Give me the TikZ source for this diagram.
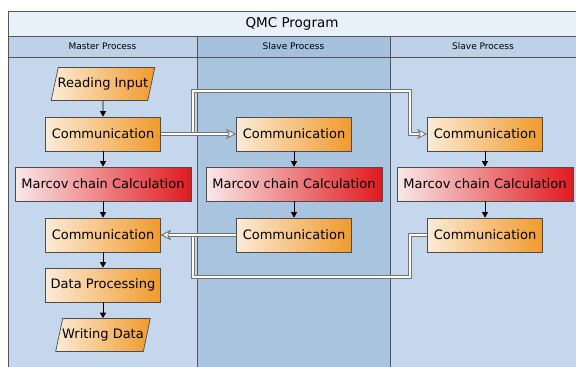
\documentclass[tikz,border=0pt]{standalone}
\usepackage{fontspec}
\setmainfont{DejaVu Sans}
\usepackage{tikz}
\usetikzlibrary{shapes.geometric,arrows.meta,positioning}

\definecolor{titlebg}{HTML}{E8F0F9}
\definecolor{lanelight}{HTML}{C4D7EC}
\definecolor{lanedark}{HTML}{A9C4DF}
\definecolor{headlight}{HTML}{BDD2E9}
\definecolor{headdark}{HTML}{A4C0DC}
\definecolor{framegray}{HTML}{555555}
\definecolor{orangelo}{HTML}{FCEBD6}
\definecolor{orangehi}{HTML}{F09A2C}
\definecolor{redlo}{HTML}{FAE8E8}
\definecolor{redhi}{HTML}{E01A1E}

\begin{document}
\begin{tikzpicture}[x=1pt, y=-1pt, font=\fontsize{13}{15}\selectfont,
  lane/.style={draw=framegray, line width=0.9pt},
  commbox/.style={draw=black!70, line width=0.7pt, minimum width=115pt, minimum height=34pt, inner sep=2pt, left color=orangelo, right color=orangehi},
  calcbox/.style={draw=black!70, line width=0.7pt, minimum width=176pt, minimum height=34pt, inner sep=2pt, left color=redlo, right color=redhi},
  iobox/.style={trapezium, trapezium left angle=70, trapezium right angle=110, trapezium stretches=true, draw=black!70, line width=0.7pt, minimum height=33pt, inner xsep=-0.5pt, left color=orangelo, right color=orangehi},
  arr/.style={-{Triangle[length=5.5pt, width=6pt]}, line width=0.8pt},
  dbl/.style={draw=black!55, double=white, double distance=2.2pt, line width=0.9pt},
  dblarr/.style={dbl, -{Stealth[length=10pt, width=10pt, inset=2.5pt, fill=white]}}]
\useasboundingbox (0,0) rectangle (576,367);
\clip (0,0) rectangle (576,367);

% swimlanes
\filldraw[lane, fill=lanelight] (8,57) rectangle (197,380);
\filldraw[lane, fill=lanedark] (197,57) rectangle (390,380);
\filldraw[lane, fill=lanelight] (390,57) rectangle (590,380);
\filldraw[lane, fill=titlebg] (8,11) rectangle (590,36);
\filldraw[lane, fill=headlight] (8,36) rectangle (197,57);
\filldraw[lane, fill=headdark] (197,36) rectangle (390,57);
\filldraw[lane, fill=headlight] (390,36) rectangle (590,57);
\node[font=\fontsize{13.5}{15}\selectfont] (title) at (292,23.5) {QMC Program};
\node[font=\fontsize{9}{11}\selectfont] (hmaster) at (102.5,46.5) {Master Process};
\node[font=\fontsize{9}{11}\selectfont] (hslave1) at (293.5,46.5) {Slave Process};
\node[font=\fontsize{9}{11}\selectfont] (hslave2) at (483,46.5) {Slave Process};

% master process
\node[iobox] (read) at (103,84) {Reading Input};
\node[commbox] (mcomm1) at (103,134) {Communication};
\node[calcbox] (mcalc) at (103,184) {Marcov chain Calculation};
\node[commbox] (mcomm2) at (103,235) {Communication};
\node[commbox] (proc) at (103,285) {Data Processing};
\node[iobox] (write) at (103,335) {Writing Data};

% slave processes
\node[commbox] (s1comm1) at (294,134) {Communication};
\node[calcbox] (s1calc) at (294,184) {Marcov chain Calculation};
\node[commbox] (s1comm2) at (294,235) {Communication};
\node[commbox] (s2comm1) at (485,134) {Communication};
\node[calcbox] (s2calc) at (485,184) {Marcov chain Calculation};
\node[commbox] (s2comm2) at (485,235) {Communication};

\draw[arr] (read) -- (mcomm1);
\draw[arr] (mcomm1) -- (mcalc);
\draw[arr] (mcalc) -- (mcomm2);
\draw[arr] (mcomm2) -- (proc);
\draw[arr] (proc) -- (write);
\draw[arr] (s1comm1) -- (s1calc);
\draw[arr] (s1calc) -- (s1comm2);
\draw[arr] (s2comm1) -- (s2calc);
\draw[arr] (s2calc) -- (s2comm2);

% message passing
\coordinate (busL) at (193,91);
\coordinate (busR) at (410,277);
\draw[dblarr] (mcomm1.east) -- (mcomm1.east -| busL) |- (busR |- busL) |- (s2comm1.west);
\draw[dblarr] (s2comm2.west) -| (busR) -| (mcomm2.east -| busL) -- (mcomm2.east);
\draw[dblarr] (mcomm1.east) -- (s1comm1.west);
\draw[dblarr] (s1comm2.west) -- (mcomm2.east);
\end{tikzpicture}
\end{document}
